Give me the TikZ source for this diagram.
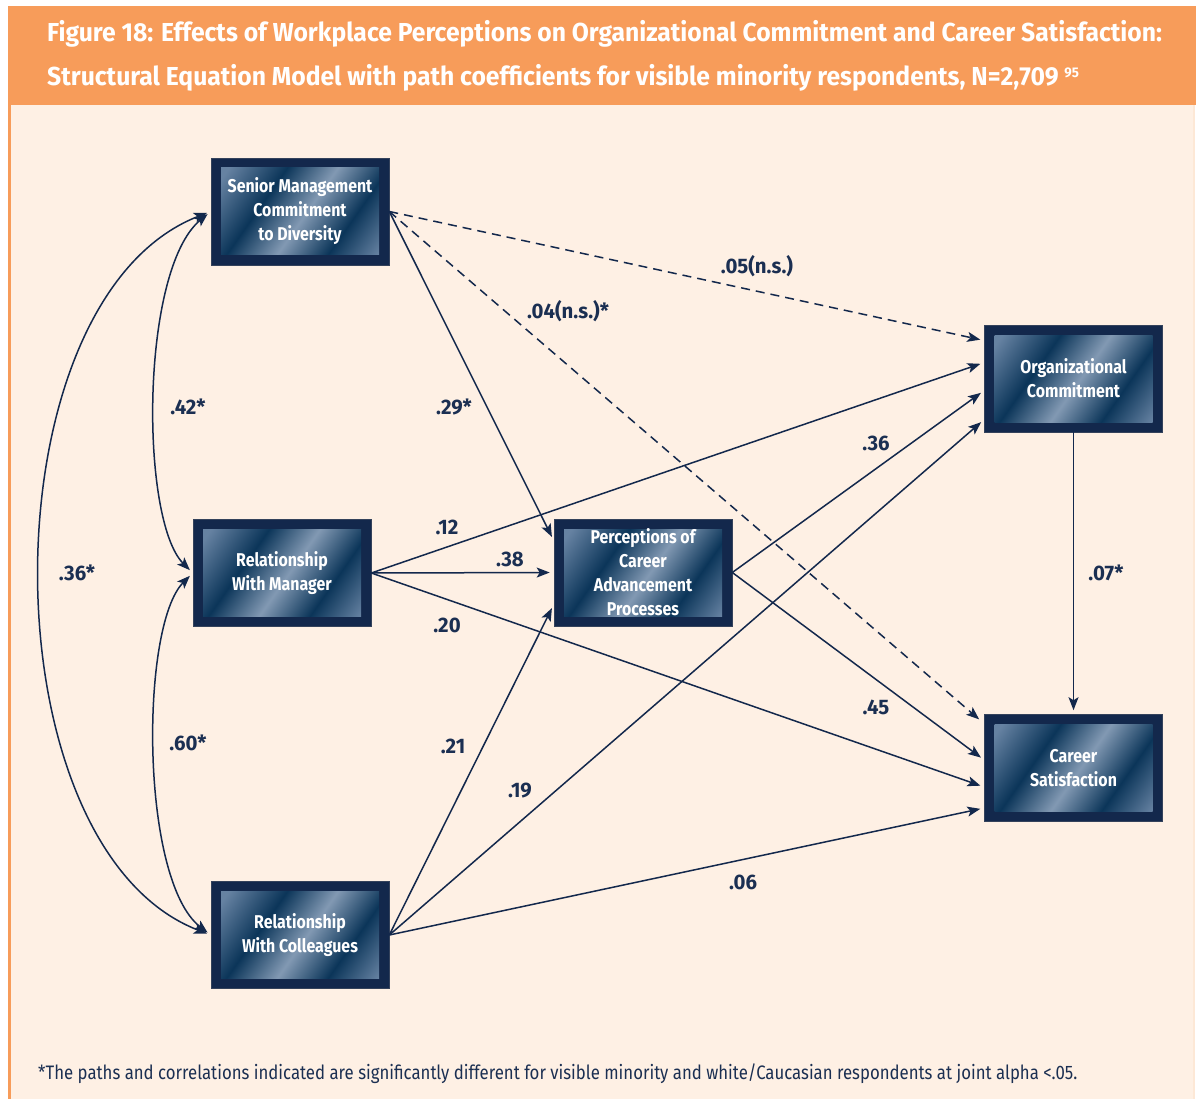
\documentclass[tikz,border=0pt]{standalone}
\usepackage{fontspec}
\setmainfont{Fira Sans}[FakeStretch=0.86]
\newfontfamily\titlefont{Fira Sans}[FakeStretch=0.95]
\newfontfamily\labfont{Fira Sans}[FakeStretch=0.97]
\usetikzlibrary{arrows.meta}
\definecolor{orangeH}{HTML}{F79C5A}
\definecolor{cream}{HTML}{FEF0E4}
\definecolor{navy}{HTML}{13284C}
\definecolor{labnavy}{HTML}{1B2F52}
\definecolor{mA}{HTML}{6682A2}
\definecolor{mB}{HTML}{0B3559}
\definecolor{mC}{HTML}{8299B3}
\pgfdeclarehorizontalshading{metal}{100bp}{color(0bp)=(mA); color(22bp)=(mA); color(38bp)=(mB); color(52bp)=(mC); color(66bp)=(mB); color(80bp)=(mA); color(100bp)=(mA)}
\tikzset{
  box/.style={fill=navy, draw=navy!70!gray, line width=0.6pt, minimum width=178pt, minimum height=107pt,
    inner sep=0pt, align=center, text=white, font=\bfseries\fontsize{18.5}{24}\selectfont,
    path picture={\shade[shading=metal, shading angle=-35]
      ([shift={(10pt,-10pt)}]path picture bounding box.north west) rectangle
      ([shift={(-10pt,10pt)}]path picture bounding box.south east);}},
  conn/.style={draw=navy, line width=1.5pt, -{Stealth[length=13pt,width=10pt,inset=3pt]}, shorten >=4pt},
  dconn/.style={conn, dash pattern=on 9pt off 6pt},
  corr/.style={draw=navy, line width=1.5pt, {Stealth[length=13pt,width=10pt,inset=3pt]}-{Stealth[length=13pt,width=10pt,inset=3pt]}, shorten >=4pt, shorten <=4pt},
  lab/.style={text=labnavy, font=\labfont\bfseries\fontsize{21}{24}\selectfont, inner sep=1pt}
}
\begin{document}
\begin{tikzpicture}[x=1pt, y=-1pt]
\path[use as bounding box] (0,0) rectangle (1196,1099);
\fill[white] (0,0) rectangle (1196,1099);
\fill[cream] (9,105) rectangle (1194,1099);
\fill[orangeH] (8,6) rectangle (1196,105);
\fill[orangeH] (8,105) rectangle (11,1099);
\fill[cream!90!orangeH] (1193,105) rectangle (1195,1099);
% title
\node[anchor=base west, text=white, font=\titlefont\bfseries\fontsize{26}{30}\selectfont, inner sep=0pt] (t1) at (47,42)
  {Figure 18: Effects of Workplace Perceptions on Organizational Commitment and Career Satisfaction:};
\node[anchor=base west, text=white, font=\titlefont\bfseries\fontsize{26}{30}\selectfont, inner sep=0pt] (t2) at (47,86)
  {Structural Equation Model with path coefficients for visible minority respondents, N=2,709 \raisebox{8pt}{\fontsize{14}{15}\selectfont 95}};
% boxes
\node[box] (SM) at (300,211.5) {Senior Management\\Commitment\\to Diversity};
\node[box] (RM) at (282,573) {Relationship\\With Manager};
\node[box] (RC) at (300,935) {Relationship\\With Colleagues};
\node[box] (PC) at (643,572.5) {Perceptions of\\Career\\Advancement\\Processes};
\node[box] (OC) at (1073.5,378.5) {Organizational\\Commitment};
\node[box] (CS) at (1073.5,768) {Career\\Satisfaction};
% paths
\draw[dconn] (SM.east) -- ([yshift=38pt]OC.west);
\draw[dconn] (SM.east) -- ([yshift=46pt,xshift=-2pt]CS.west);
\draw[conn] (SM.east) -- ([yshift=32pt]PC.west);
\draw[conn] (RM.east) -- ([yshift=16pt]OC.west);
\draw[conn] (RM.east) -- (PC.west);
\draw[conn] (RM.east) -- ([yshift=-19pt]CS.west);
\draw[conn] (RC.east) -- ([yshift=-32pt]PC.west);
\draw[conn] (RC.east) -- ([yshift=-41pt]OC.west);
\draw[conn] (RC.east) -- ([yshift=-40pt]CS.west);
\draw[conn] (PC.east) -- ([yshift=-12pt]OC.west);
\draw[conn] (PC.east) -- ([yshift=8pt]CS.west);
\draw[conn] (OC.south) -- (CS.north);
% correlations
\draw[corr] (SM.west) .. controls (140,270) and (140,520) .. (RM.west);
\draw[corr] (RM.west) .. controls (140,626) and (140,880) .. (RC.west);
\draw[corr] (SM.west) .. controls (-16,300) and (-16,847) .. (RC.west);
% labels
\node[lab] (l1) at (757,266) {.05(n.s.)};
\node[lab] (l2) at (568,311) {.04(n.s.)*};
\node[lab] (l3) at (454,407) {.29*};
\node[lab] (l4) at (447,527) {.12};
\node[lab] (l5) at (510,559) {.38};
\node[lab] (l6) at (447,625) {.20};
\node[lab] (l7) at (453,746) {.21};
\node[lab] (l8) at (520,791) {.19};
\node[lab] (l9) at (743,882) {.06};
\node[lab] (l10) at (876,443) {.36};
\node[lab] (l11) at (876,707) {.45};
\node[lab] (l12) at (1106,573) {.07*};
\node[lab] (l13) at (188,407) {.42*};
\node[lab] (l14) at (188,743) {.60*};
\node[lab] (l15) at (77,573) {.36*};
% footer
\node[anchor=base west, text=labnavy, font=\fontsize{19.5}{22}\selectfont, inner sep=0pt] (fn) at (38,1079)
  {*The paths and correlations indicated are significantly different for visible minority and white/Caucasian respondents at joint alpha <.05.};
\end{tikzpicture}
\end{document}
